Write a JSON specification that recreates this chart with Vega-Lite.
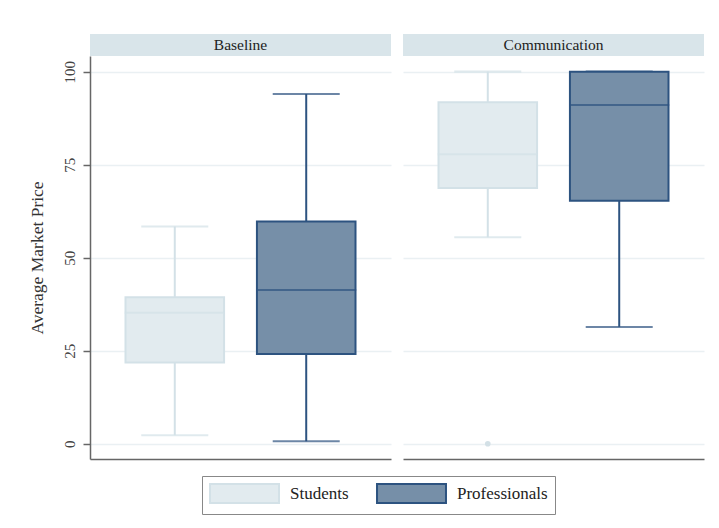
{
  "$schema": "https://vega.github.io/schema/vega-lite/v6.json",
  "background": "white",
  "padding": {"left": 28, "top": 34, "right": 15, "bottom": 17},
  "config": {
    "font": "Liberation Serif",
    "view": {"stroke": null},
    "axis": {
      "gridColor": "#eaf0f3",
      "gridWidth": 1.5,
      "domainColor": "#666666",
      "domainWidth": 1.5,
      "tickColor": "#666666",
      "tickWidth": 1.5,
      "labelFont": "Liberation Serif",
      "titleFont": "Liberation Serif"
    },
    "legend": {
      "orient": "none",
      "legendX": 112,
      "legendY": 442,
      "direction": "horizontal",
      "padding": 7,
      "strokeColor": "#888888",
      "symbolType": "M-3.63,-1H3.63V1H-3.63Z",
      "symbolSize": 361,
      "symbolOffset": 25,
      "symbolStrokeWidth": 2,
      "symbolOpacity": 1,
      "labelFont": "Liberation Serif",
      "labelFontSize": 17,
      "labelColor": "#222222",
      "labelOffset": 35,
      "columnPadding": 24
    }
  },
  "datasets": {
    "boxes": [
      {"panel": "Baseline", "group": "Students", "lower": 2.3, "q1": 21.8, "median": 35.2, "q3": 39.4, "upper": 58.4},
      {"panel": "Baseline", "group": "Professionals", "lower": 0.7, "q1": 24.1, "median": 41.3, "q3": 59.7, "upper": 94.0},
      {"panel": "Communication", "group": "Students", "lower": 55.5, "q1": 68.7, "median": 77.8, "q3": 91.8, "upper": 100},
      {"panel": "Communication", "group": "Professionals", "lower": 31.4, "q1": 65.3, "median": 91.0, "q3": 100, "upper": 100}
    ],
    "outliers": [
      {"panel": "Communication", "group": "Students", "value": 0}
    ]
  },
  "spacing": 12,
  "hconcat": [
    {
      "spacing": 0,
      "bounds": "flush",
      "vconcat": [
        {
          "data": {"values": [{"panel": "Baseline"}]},
          "width": 301,
          "height": 22,
          "view": {"fill": "#d9e5ea", "stroke": null},
          "mark": {"type": "text", "fontSize": 15.5, "color": "#222222", "font": "Liberation Serif"},
          "encoding": {"text": {"field": "panel", "type": "nominal"}}
        },
        {
          "width": 301,
          "height": 403,
          "encoding": {
            "x": {
              "field": "group", "type": "nominal",
              "scale": {"domain": ["Students", "Professionals"], "paddingInner": 0.25, "paddingOuter": 0.27},
              "axis": {"labels": false, "ticks": false, "title": null, "grid": false}
            }
          },
          "layer": [
            {
              "data": {"name": "boxes"},
              "transform": [{"filter": "datum.panel === 'Baseline'"}],
              "layer": [
                {
                  "mark": {"type": "rule", "strokeWidth": 2},
                  "encoding": {
                    "y": {
                      "field": "lower", "type": "quantitative",
                      "scale": {"domain": [-4.1, 104.2], "nice": false, "zero": false},
                      "axis": {
                        "values": [0, 25, 50, 75, 100],
                        "title": "Average Market Price",
                        "titleFontSize": 17.5, "titleFontWeight": "normal", "titleColor": "#333333", "titlePadding": 16,
                        "labelAngle": 270, "labelFontSize": 15, "labelColor": "#444444", "labelPadding": 6,
                        "tickSize": 7, "grid": true
                      }
                    },
                    "y2": {"field": "upper"},
                    "stroke": {
                      "field": "group", "type": "nominal",
                      "scale": {"domain": ["Students", "Professionals"], "range": ["#d3e1e7", "#2d5380"]},
                      "legend": {"title": null}
                    }
                  }
                },
                {
                  "mark": {"type": "tick", "filled": false, "size": 65, "thickness": 0.01, "strokeWidth": 2},
                  "encoding": {"y": {"field": "lower", "type": "quantitative"}, "stroke": {"field": "group", "type": "nominal"}}
                },
                {
                  "mark": {"type": "tick", "filled": false, "size": 65, "thickness": 0.01, "strokeWidth": 2},
                  "encoding": {"y": {"field": "upper", "type": "quantitative"}, "stroke": {"field": "group", "type": "nominal"}}
                },
                {
                  "mark": {"type": "bar", "strokeWidth": 2},
                  "encoding": {
                    "y": {"field": "q1", "type": "quantitative"},
                    "y2": {"field": "q3"},
                    "fill": {
                      "field": "group", "type": "nominal",
                      "scale": {"domain": ["Students", "Professionals"], "range": ["#e2ebef", "#768fa8"]},
                      "legend": {"title": null}
                    },
                    "stroke": {"field": "group", "type": "nominal"}
                  }
                },
                {
                  "mark": {"type": "tick", "filled": false, "size": 98, "thickness": 0.01, "strokeWidth": 2},
                  "encoding": {"y": {"field": "median", "type": "quantitative"}, "stroke": {"field": "group", "type": "nominal"}}
                }
              ]
            }
          ]
        }
      ]
    },
    {
      "spacing": 0,
      "bounds": "flush",
      "vconcat": [
        {
          "data": {"values": [{"panel": "Communication"}]},
          "width": 301,
          "height": 22,
          "view": {"fill": "#d9e5ea", "stroke": null},
          "mark": {"type": "text", "fontSize": 15.5, "color": "#222222", "font": "Liberation Serif"},
          "encoding": {"text": {"field": "panel", "type": "nominal"}}
        },
        {
          "width": 301,
          "height": 403,
          "encoding": {
            "x": {
              "field": "group", "type": "nominal",
              "scale": {"domain": ["Students", "Professionals"], "paddingInner": 0.25, "paddingOuter": 0.27},
              "axis": {"labels": false, "ticks": false, "title": null, "grid": false}
            }
          },
          "layer": [
            {
              "data": {"name": "boxes"},
              "transform": [{"filter": "datum.panel === 'Communication'"}],
              "layer": [
                {
                  "mark": {"type": "rule", "strokeWidth": 2},
                  "encoding": {
                    "y": {
                      "field": "lower", "type": "quantitative",
                      "scale": {"domain": [-4.1, 104.2], "nice": false, "zero": false},
                      "axis": {
                        "values": [0, 25, 50, 75, 100],
                        "labels": false, "ticks": false, "domain": false, "title": null, "grid": true
                      }
                    },
                    "y2": {"field": "upper"},
                    "stroke": {"field": "group", "type": "nominal"}
                  }
                },
                {
                  "mark": {"type": "tick", "filled": false, "size": 65, "thickness": 0.01, "strokeWidth": 2},
                  "encoding": {"y": {"field": "lower", "type": "quantitative"}, "stroke": {"field": "group", "type": "nominal"}}
                },
                {
                  "mark": {"type": "tick", "filled": false, "size": 65, "thickness": 0.01, "strokeWidth": 2},
                  "encoding": {"y": {"field": "upper", "type": "quantitative"}, "stroke": {"field": "group", "type": "nominal"}}
                },
                {
                  "mark": {"type": "bar", "strokeWidth": 2},
                  "encoding": {
                    "y": {"field": "q1", "type": "quantitative"},
                    "y2": {"field": "q3"},
                    "fill": {"field": "group", "type": "nominal"},
                    "stroke": {"field": "group", "type": "nominal"}
                  }
                },
                {
                  "mark": {"type": "tick", "filled": false, "size": 98, "thickness": 0.01, "strokeWidth": 2},
                  "encoding": {"y": {"field": "median", "type": "quantitative"}, "stroke": {"field": "group", "type": "nominal"}}
                }
              ]
            },
            {
              "data": {"name": "outliers"},
              "mark": {"type": "point", "filled": true, "size": 32, "color": "#d3e0e6", "opacity": 1},
              "encoding": {"y": {"field": "value", "type": "quantitative"}}
            }
          ]
        }
      ]
    }
  ]
}
